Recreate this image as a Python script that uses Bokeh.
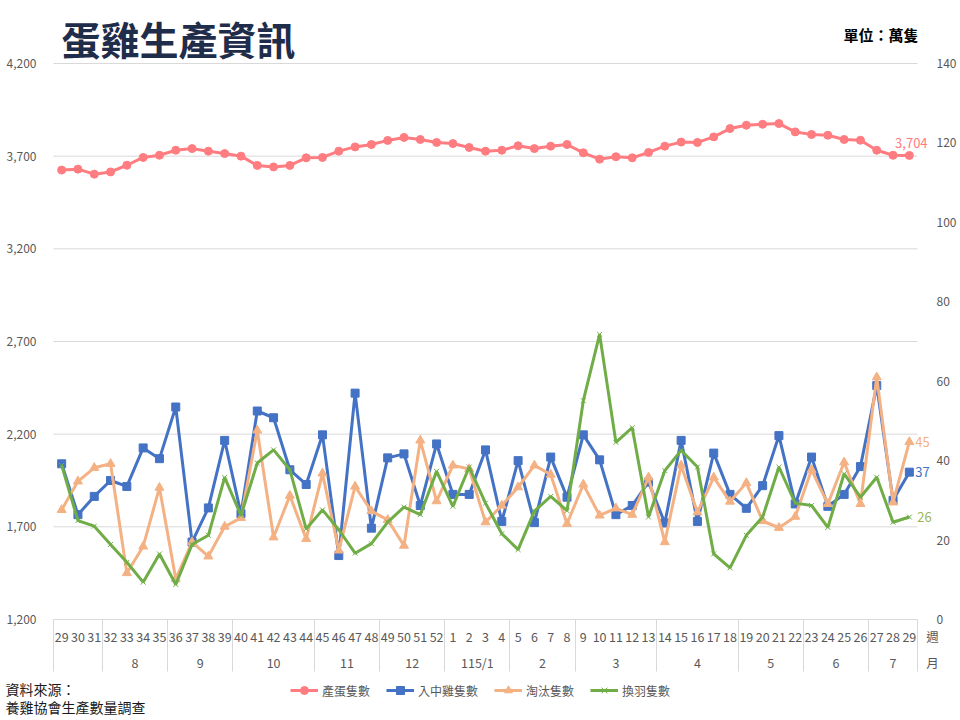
from bokeh.plotting import figure
from bokeh.models import (Range1d, LinearAxis, FixedTicker, Label, LabelSet,
                          Legend, LegendItem, ColumnDataSource, NumeralTickFormatter)
from bokeh.core.properties import value
from bokeh.embed import file_html
from bokeh.resources import INLINE

FONT = "Noto Sans CJK TC"
GREY = "#595959"

# month groups and the weeks inside them
month_labels = ["", "8", "9", "10", "11", "12", "115/1", "2", "3", "4", "5", "6", "7"]
month_sizes = [3, 4, 4, 5, 4, 4, 4, 4, 5, 5, 4, 4, 3]
weeks = ["29", "30", "31", "32", "33", "34", "35", "36", "37", "38", "39", "40", "41",
         "42", "43", "44", "45", "46", "47", "48", "49", "50", "51", "52",
         "1", "2", "3", "4", "5", "6", "7", "8", "9", "10", "11", "12", "13", "14",
         "15", "16", "17", "18", "19", "20", "21", "22", "23", "24", "25", "26",
         "27", "28", "29"]

# 產蛋隻數 (left axis)
egg = [3625, 3630, 3603, 3615, 3651, 3693, 3705, 3732, 3741, 3727, 3714, 3700, 3650,
       3642, 3650, 3691, 3693, 3727, 3750, 3763, 3785, 3801, 3790, 3774, 3768, 3747,
       3727, 3732, 3756, 3741, 3754, 3763, 3718, 3684, 3697, 3691, 3720, 3754, 3776,
       3774, 3804, 3849, 3867, 3872, 3876, 3831, 3817, 3813, 3790, 3786, 3732, 3705,
       3704]
# 入中雞隻數 (right axis)
pullet = [39.2, 26.4, 31.0, 35.0, 33.5, 43.2, 40.5, 53.5, 19.5, 28.1, 45.1, 26.6, 52.5,
          50.8, 37.7, 34.0, 46.5, 16.1, 57.0, 23.0, 40.7, 41.7, 28.7, 44.2, 31.5,
          31.5, 42.7, 24.7, 40.0, 24.4, 40.9, 30.8, 46.5, 40.2, 26.4, 28.7, 34.6,
          24.3, 45.1, 24.7, 41.9, 31.5, 28.0, 33.7, 46.3, 29.1, 40.9, 28.5, 31.5,
          38.5, 58.9, 30.0, 37.1]
# 淘汰隻數
culled = [27.6, 34.8, 38.2, 39.2, 11.7, 18.4, 33.2, 10.2, 19.5, 15.9, 23.4, 25.6, 47.6,
          20.7, 31.2, 20.3, 36.8, 17.4, 33.5, 27.3, 25.1, 18.6, 45.1, 29.8, 38.8,
          37.9, 24.5, 28.7, 33.3, 38.8, 36.5, 24.1, 34.0, 26.2, 28.0, 26.4, 35.8,
          19.5, 38.8, 27.0, 35.8, 29.7, 34.4, 24.8, 23.1, 25.9, 37.7, 29.1, 39.6,
          29.1, 61.0, 29.5, 44.7]
# 換羽隻數
molt = [38.8, 24.9, 23.5, 18.9, 14.4, 9.4, 16.5, 8.8, 18.9, 21.2, 35.8, 26.2, 39.4,
        42.7, 37.7, 22.8, 27.6, 22.6, 16.7, 19.1, 24.5, 28.3, 26.4, 37.3, 28.5,
        38.4, 29.3, 21.6, 17.6, 27.3, 31.0, 27.4, 55.1, 71.8, 44.6, 48.3, 25.8,
        37.5, 42.6, 38.4, 16.5, 13.0, 21.2, 25.8, 38.4, 29.3, 28.7, 23.2, 36.7,
        30.8, 35.8, 24.5, 25.8]

left_ticks = [1200, 1700, 2200, 2700, 3200, 3700, 4200]
right_ticks = [0, 20, 40, 60, 80, 100, 120, 140]

# canvas geometry: the plotting area sits inside a canvas-wide frame,
# so the axes are pinned with fixed_location and every text can live on the frame
W, H = 960, 720
PL, PR, PT, PB = 53, 917, 63, 619
n = len(weeks)
idx = list(range(n))
cat_w = (PR - PL) / n
upp = (left_ticks[-1] - left_ticks[0]) / (PB - PT)
upp_r = (right_ticks[-1] - right_ticks[0]) / (PB - PT)
x_lo, x_hi = -0.5, n - 0.5

p = figure(width=W, height=H, min_border=0, output_backend="svg", toolbar_location=None,
           outline_line_color=None,
           x_range=Range1d(x_lo - PL / cat_w, x_hi + (W - PR) / cat_w),
           y_range=Range1d(left_ticks[0] - (H - PB) * upp, left_ticks[-1] + PT * upp))
p.extra_y_ranges = {"r": Range1d(right_ticks[0] - (H - PB) * upp_r, right_ticks[-1] + PT * upp_r)}
p.xgrid.grid_line_color = None
p.ygrid.grid_line_color = None

# horizontal gridlines limited to the category span
p.segment(x0=x_lo, x1=x_hi, y0=left_ticks, y1=left_ticks, line_color="#D9D9D9",
          line_width=1, level="underlay")


def style_axis(ax, size="12px"):
    ax.axis_line_color = None
    ax.major_tick_line_color = None
    ax.minor_tick_line_color = None
    ax.major_label_text_font = FONT
    ax.major_label_text_font_size = size
    ax.major_label_text_color = GREY


ya = p.yaxis[0]
ya.fixed_location = x_lo
ya.ticker = FixedTicker(ticks=left_ticks)
ya.formatter = NumeralTickFormatter(format="0,0")
ya.major_label_standoff = 11
style_axis(ya)

right = LinearAxis(y_range_name="r", fixed_location=x_hi, ticker=FixedTicker(ticks=right_ticks),
                   major_label_standoff=13)
style_axis(right)
p.add_layout(right, "right")

# week row, month row and group separators
tag_x = x_hi + 0.92
month_pos, seps = [], [x_lo]
start = 0
for m in month_sizes:
    month_pos.append(start + (m - 1) / 2)
    start += m
    seps.append(start - 0.5)

xa = p.xaxis[0]
xa.fixed_location = left_ticks[0]
xa.ticker = FixedTicker(ticks=idx + [tag_x])
xa.major_label_overrides = {**dict(zip(idx, weeks)), tag_x: "週"}
xa.major_label_standoff = 1
style_axis(xa, "12.5px")

mx = LinearAxis(fixed_location=left_ticks[0], ticker=FixedTicker(ticks=month_pos + [tag_x]),
                major_label_overrides={**dict(zip(month_pos, month_labels)), tag_x: "月"},
                major_label_standoff=27)
style_axis(mx, "12.5px")
p.add_layout(mx, "below")

sx = LinearAxis(fixed_location=left_ticks[0], ticker=FixedTicker(ticks=seps),
                major_label_overrides={s: "" for s in seps}, major_tick_in=0, major_tick_out=52)
style_axis(sx)
sx.major_tick_line_color = "#D9D9D9"
p.add_layout(sx, "below")

src = ColumnDataSource(dict(x=idx, egg=egg, pullet=pullet, culled=culled, molt=molt))

# series
r1 = p.line("x", "egg", source=src, color="#FF7C80", line_width=3)
m1 = p.scatter("x", "egg", source=src, marker="circle", size=8, color="#FF7C80")
r2 = p.line("x", "pullet", source=src, color="#4472C4", line_width=3, y_range_name="r")
m2 = p.scatter("x", "pullet", source=src, marker="square", size=8, color="#4472C4", y_range_name="r")
r3 = p.line("x", "culled", source=src, color="#F4B183", line_width=3, y_range_name="r")
m3 = p.scatter("x", "culled", source=src, marker="triangle", size=9, color="#F4B183", y_range_name="r")
r4 = p.line("x", "molt", source=src, color="#70AD47", line_width=3, y_range_name="r")
m4 = p.scatter("x", "molt", source=src, marker="x", size=7, line_color="#70AD47", line_width=1, y_range_name="r")

legend = Legend(items=[LegendItem(label="產蛋隻數", renderers=[r1, m1]),
                       LegendItem(label="入中雞隻數", renderers=[r2, m2]),
                       LegendItem(label="淘汰隻數", renderers=[r3, m3]),
                       LegendItem(label="換羽隻數", renderers=[r4, m4])],
                orientation="horizontal", location="bottom_center", border_line_color=None,
                background_fill_alpha=0, label_text_font=FONT, label_text_font_size="12px",
                label_text_color=GREY, glyph_width=28, spacing=16, padding=2, margin=20,
                label_standoff=4)
p.add_layout(legend)

# last-point data labels
egg_lbl = ColumnDataSource(dict(x=[idx[-1]], y=[egg[-1]], t=["{:,}".format(egg[-1])]))
p.add_layout(LabelSet(x="x", y="y", text="t", source=egg_lbl, text_align="center",
                      text_baseline="middle", x_offset=2, y_offset=12, text_font=value(FONT),
                      text_font_size="13px", text_color="#FF7C80"))
for vals, col, dx in [(culled, "#F4B183", 6), (pullet, "#4472C4", 6), (molt, "#9CB552", 8)]:
    s = ColumnDataSource(dict(x=[idx[-1]], y=[vals[-1]], t=[str(round(vals[-1]))]))
    p.add_layout(LabelSet(x="x", y="y", text="t", source=s, y_range_name="r",
                          x_offset=dx, text_baseline="middle", text_font=value(FONT),
                          text_font_size="13px", text_color=col))


def note(x, y, text, **kw):
    # x, y in canvas pixels from the top-left corner
    p.add_layout(Label(x=x, y=H - y, x_units="screen", y_units="screen", text=text,
                       text_font=FONT, text_baseline="middle", **kw))


note(61, 37, "蛋雞生產資訊", text_font_size="39px", text_font_style="bold", text_color="#1F2D4A")
note(918, 34, "單位：萬隻", text_align="right", text_font_size="15px",
     text_font_style="bold", text_color="#000000")
note(5, 688, "資料來源：", text_font_size="14px", text_color="#1A1A1A")
note(5, 706, "養雞協會生產數量調查", text_font_size="14px", text_color="#1A1A1A")

open("out.html", "w").write(file_html(p, INLINE))
